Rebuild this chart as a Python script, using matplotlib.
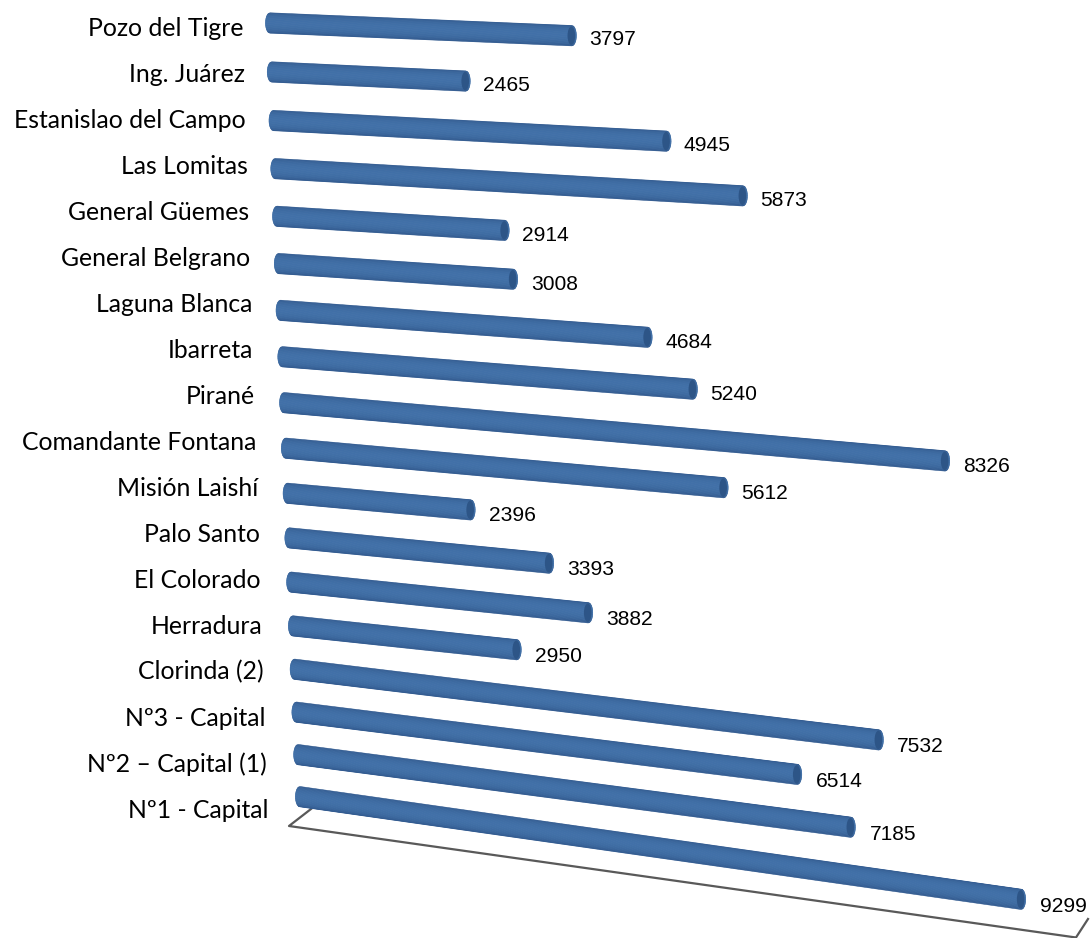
import matplotlib
matplotlib.use("Agg")
import matplotlib.pyplot as plt
import numpy as np
from matplotlib.patches import Ellipse

# top to bottom as in the picture
labels = ["Pozo del Tigre", "Ing. Juárez", "Estanislao del Campo", "Las Lomitas",
          "General Güemes", "General Belgrano", "Laguna Blanca", "Ibarreta",
          "Pirané", "Comandante Fontana", "Misión Laishí", "Palo Santo",
          "El Colorado", "Herradura", "Clorinda (2)", "Nº3 - Capital",
          "Nº2 – Capital (1)", "Nº1 - Capital"]
values = [3797, 2465, 4945, 5873, 2914, 3008, 4684, 5240, 8326,
          5612, 2396, 3393, 3882, 2950, 7532, 6514, 7185, 9299]

dark = np.array([0x2f, 0x56, 0x8a]) / 255
mid = np.array([0x41, 0x70, 0xa8]) / 255


# the fake 3d: every row has its own start, scale and slope
def bar_start(i):
    return 270 + 1.76 * i, 23 + 49.2 * i - 0.217 * i ** 2


def bar_end(i, v):
    x0, y0 = bar_start(i)
    length = v * (0.0795 - 0.00025 * i + 4.2e-7 * (v - 3797))
    slope = 0.042 + 0.0059 * i + 1.5e-7 * i * (v - 9299)
    return x0 + length, y0 + length * slope


fig = plt.figure(figsize=(10.9, 9.38), dpi=100)
ax = fig.add_axes([0, 0, 1, 1])
ax.set_xlim(0, 1090)
ax.set_ylim(938, 0)
ax.axis("off")

# floor of the chart
ax.plot([311, 289, 1076, 1088], [809, 826, 937.5, 919], color="#595959", lw=1.6)

r = 10.2
cap = 4.5
ts = np.linspace(-1, 1, 31)
for i, v in enumerate(values):
    x0, y0 = bar_start(i)
    x1, y1 = bar_end(i, v)
    for a, b in zip(ts[:-1], ts[1:]):
        t = (a + b) / 2
        shade = np.cos(t * np.pi / 2) ** 0.5
        col = dark + (mid - dark) * shade
        wa = cap * np.sqrt(1 - a ** 2)
        wb = cap * np.sqrt(1 - b ** 2)
        ax.fill([x0 - wa, x1 + wa, x1 + wb, x0 - wb],
                [y0 + a * r, y1 + a * r, y1 + b * r, y0 + b * r],
                color=col, lw=0.4, zorder=2)
    ax.add_patch(Ellipse((x1 - 0.5, y1), cap * 1.7, r * 2 - 2,
                         fc="#2d5587", ec="none", zorder=3))
    ax.text(x1 + 17 + 0.1 * i, y1 + 4 + 0.2 * i, str(v), family="Liberation Sans",
            fontsize=15.1, ha="left", va="center", color="black")
    ax.text(243 + 1.5 * i, 28 + 46 * i, labels[i], family="Lato", fontsize=17.8,
            ha="right", va="center", color="black")

fig.savefig("out.png", dpi=100)
